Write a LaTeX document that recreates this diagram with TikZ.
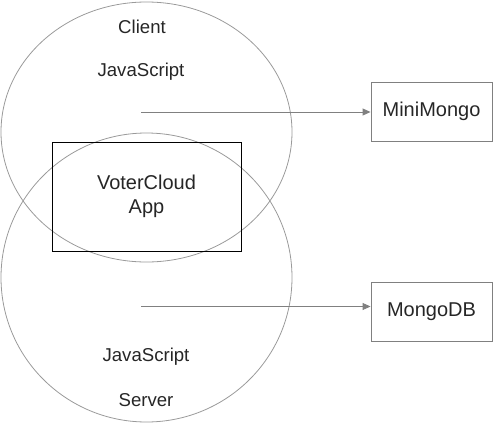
\documentclass[tikz,border=0pt]{standalone}
\usepackage{fontspec}
\setmainfont{Liberation Sans}
\usetikzlibrary{shapes.geometric,arrows.meta}
\definecolor{ringgray}{HTML}{9A9A9A}
\definecolor{arrgray}{HTML}{808080}
\begin{document}
\begin{tikzpicture}[x=1pt,y=-1pt,
  every node/.style={font=\fontsize{18.6}{22}\selectfont, text=black!85},
  big/.style={font=\fontsize{20}{24}\selectfont},
  ring/.style={ellipse, draw=ringgray, line width=0.8pt, inner sep=0pt},
  dbbox/.style={rectangle, draw=arrgray, line width=0.9pt, minimum width=121pt, minimum height=59pt, inner sep=0pt, big},
  conn/.style={draw=arrgray, line width=0.9pt, -{Triangle[length=8pt,width=7pt]}},
  lbl/.style={inner sep=0pt}]
\useasboundingbox (0,0) rectangle (493,431);
\node[ring, minimum width=291pt, minimum height=260pt] (client) at (146.5,132) {};
\node[ring, minimum width=291pt, minimum height=289pt] (server) at (146.5,277.5) {};
\node[draw=black, line width=0.9pt, minimum width=189pt, minimum height=109pt, inner sep=0pt, align=center, big] (app) at (146.5,196.5) {VoterCloud\\App};
\node[lbl] (clientlbl) at (142,27) {Client};
\node[lbl] (js1) at (141,72) {JavaScript};
\node[lbl] (js2) at (146,357) {JavaScript};
\node[lbl] (serverlbl) at (146,400) {Server};
\node[dbbox] (mini) at (431.5,111.5) {MiniMongo};
\node[dbbox] (mongo) at (431.5,311.5) {MongoDB};
\coordinate (s1) at (141,112);
\coordinate (s2) at (141,306.5);
\draw[conn] (s1) -- (s1 -| mini.west);
\draw[conn] (s2) -- (s2 -| mongo.west);
\end{tikzpicture}
\end{document}
